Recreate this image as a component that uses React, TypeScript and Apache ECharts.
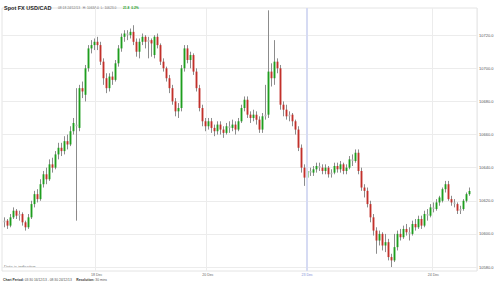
import React, { useEffect, useRef } from "react";
import * as echarts from "echarts";

// [open, close, low, high] per 30-min slot
const ohlc: number[][] = [
  [10607, 10608, 10604, 10610], [10608, 10605, 10603, 10609], [10605, 10610, 10604, 10612], [10610, 10614, 10609, 10616],
  [10614, 10611, 10609, 10615], [10611, 10612, 10608, 10614], [10612, 10607, 10605, 10613], [10607, 10604, 10602, 10608],
  [10604, 10610, 10603, 10612], [10610, 10618, 10609, 10620], [10618, 10624, 10616, 10626], [10624, 10621, 10619, 10627],
  [10621, 10630, 10620, 10633], [10630, 10636, 10628, 10638], [10636, 10633, 10630, 10640], [10633, 10642, 10632, 10645],
  [10642, 10640, 10637, 10646], [10640, 10648, 10639, 10650], [10648, 10652, 10645, 10655], [10652, 10650, 10647, 10655],
  [10650, 10656, 10648, 10659], [10656, 10654, 10651, 10660], [10654, 10662, 10653, 10665], [10662, 10667, 10660, 10670],
  [10666, 10665, 10608, 10688], [10664, 10688, 10662, 10690], [10688, 10686, 10682, 10692], [10684, 10700, 10680, 10702],
  [10700, 10712, 10698, 10714], [10712, 10714, 10709, 10717], [10714, 10716, 10711, 10718], [10716, 10714, 10711, 10719],
  [10714, 10704, 10702, 10716], [10704, 10694, 10690, 10706], [10694, 10688, 10685, 10697], [10688, 10695, 10686, 10697],
  [10695, 10693, 10690, 10698], [10693, 10703, 10692, 10705], [10703, 10712, 10701, 10714], [10712, 10719, 10710, 10721],
  [10719, 10721, 10716, 10723], [10721, 10720, 10717, 10723], [10720, 10722, 10718, 10724], [10722, 10716, 10714, 10726],
  [10716, 10710, 10707, 10718], [10710, 10716, 10706, 10718], [10716, 10719, 10714, 10721], [10719, 10716, 10712, 10720],
  [10716, 10717, 10706, 10719], [10717, 10715, 10707, 10718], [10708, 10719, 10706, 10720], [10719, 10714, 10712, 10721],
  [10714, 10704, 10702, 10715], [10704, 10700, 10698, 10706], [10700, 10694, 10692, 10701], [10694, 10688, 10685, 10696],
  [10688, 10680, 10678, 10690], [10680, 10674, 10671, 10682], [10674, 10676, 10670, 10679], [10676, 10700, 10674, 10702],
  [10700, 10712, 10698, 10714], [10712, 10705, 10703, 10714], [10705, 10708, 10700, 10710], [10708, 10698, 10696, 10709],
  [10698, 10688, 10686, 10700], [10688, 10676, 10674, 10690], [10676, 10668, 10665, 10678], [10668, 10665, 10662, 10670],
  [10665, 10668, 10663, 10670], [10668, 10664, 10661, 10670], [10664, 10662, 10659, 10666], [10662, 10666, 10660, 10668],
  [10666, 10663, 10660, 10668], [10663, 10661, 10658, 10665], [10661, 10665, 10660, 10667], [10665, 10664, 10661, 10668],
  [10664, 10666, 10662, 10669], [10666, 10663, 10660, 10668], [10663, 10668, 10662, 10670], [10668, 10676, 10667, 10678],
  [10676, 10681, 10674, 10683], [10681, 10672, 10670, 10683], [10672, 10670, 10667, 10674], [10670, 10672, 10668, 10675],
  [10672, 10669, 10666, 10674], [10669, 10663, 10661, 10671], [10663, 10671, 10661, 10673], [10671, 10672, 10669, 10690],
  [10672, 10698, 10670, 10735], [10698, 10694, 10689, 10703], [10694, 10704, 10690, 10717], [10704, 10700, 10697, 10706],
  [10700, 10678, 10675, 10702], [10678, 10675, 10671, 10680], [10675, 10671, 10669, 10678], [10671, 10672, 10668, 10674],
  [10672, 10668, 10665, 10673], [10668, 10663, 10660, 10669], [10663, 10652, 10650, 10665], [10652, 10640, 10637, 10654],
  [10640, 10634, 10629, 10642], [10634, 10638, 10632, 10640], [10638, 10637, 10635, 10640], [10637, 10639, 10635, 10641],
  [10639, 10641, 10637, 10643], [10641, 10640, 10638, 10643], [10640, 10638, 10636, 10642], [10638, 10640, 10636, 10642],
  [10640, 10636, 10634, 10641], [10636, 10637, 10634, 10639], [10637, 10641, 10636, 10643], [10641, 10639, 10637, 10643],
  [10639, 10642, 10637, 10644], [10642, 10638, 10636, 10643], [10638, 10640, 10636, 10642], [10640, 10645, 10639, 10647],
  [10645, 10644, 10641, 10648], [10644, 10649, 10643, 10651], [10649, 10638, 10636, 10651], [10638, 10628, 10626, 10640],
  [10628, 10626, 10622, 10630], [10626, 10618, 10616, 10628], [10618, 10610, 10607, 10620], [10610, 10602, 10599, 10612],
  [10602, 10596, 10588, 10604], [10596, 10600, 10593, 10602], [10600, 10593, 10590, 10601], [10593, 10595, 10589, 10600],
  [10595, 10586, 10584, 10597], [10586, 10584, 10580, 10588], [10584, 10592, 10583, 10600], [10592, 10600, 10590, 10602],
  [10600, 10598, 10596, 10603], [10598, 10603, 10597, 10605], [10603, 10601, 10599, 10606], [10601, 10600, 10596, 10604],
  [10600, 10606, 10599, 10608], [10606, 10604, 10602, 10609], [10604, 10609, 10603, 10611], [10609, 10605, 10603, 10611],
  [10605, 10612, 10604, 10614], [10612, 10611, 10608, 10615], [10611, 10616, 10610, 10618], [10616, 10615, 10613, 10619],
  [10615, 10619, 10614, 10621], [10619, 10622, 10617, 10623], [10620, 10627, 10619, 10628], [10627, 10630, 10625, 10632],
  [10630, 10621, 10620, 10632], [10621, 10619, 10617, 10623], [10619, 10618, 10616, 10621], [10618, 10614, 10612, 10619],
  [10614, 10615, 10612, 10617], [10615, 10620, 10614, 10621], [10620, 10624, 10619, 10625], [10624, 10625.9, 10623, 10628],
];

const slotCount = 158;
const yTicks = [10580, 10600, 10620, 10640, 10660, 10680, 10700, 10720];
const tickSlots = [31, 68, 101, 143];
const tickLabels = ["18 Dec", "20 Dec", "23 Dec", "24 Dec"];
const highlightSlot = 101;
const lastPrice = 10625.9;

const FONT = "Liberation Sans, Arial, sans-serif";

export default function App() {
  const ref = useRef<HTMLDivElement>(null);
  useEffect(() => {
    document.body.style.margin = "0";
    const chart = echarts.init(ref.current!, null, { renderer: "svg" });
    const slots = Array.from({ length: slotCount }, (_, i) => String(i));
    const data = ohlc.map((d, i) => [i, d[0], d[1], d[2], d[3]]);
    chart.setOption({
      animation: false,
      backgroundColor: "#ffffff",
      textStyle: { fontFamily: FONT },
      grid: { left: 2, right: 23, top: 8, bottom: 14, show: true, borderColor: "#e4e4e4", borderWidth: 1 },
      xAxis: {
        type: "category",
        data: slots,
        boundaryGap: true,
        axisLine: { show: false },
        axisTick: { show: false },
        axisLabel: {
          interval: (i: number) => tickSlots.includes(i),
          margin: 2,
          fontSize: 3.6,
          color: "#666",
          fontFamily: FONT,
          formatter: (_v: string, i: number) => {
            const k = tickSlots.indexOf(i);
            if (k < 0) return "";
            return i === highlightSlot ? `{b|${tickLabels[k]}}` : tickLabels[k];
          },
          rich: { b: { color: "#7f8fd6", fontSize: 3.6, fontFamily: FONT } },
        },
        splitLine: {
          show: true,
          interval: (i: number) => tickSlots.includes(i) && i !== highlightSlot,
          lineStyle: { color: "#ececec", width: 1 },
        },
      },
      yAxis: {
        type: "value",
        position: "right",
        min: 10577.6,
        max: 10736.4,
        axisLine: { show: false },
        axisTick: { show: false, customValues: yTicks },
        axisLabel: {
          customValues: yTicks,
          margin: 2,
          fontSize: 4,
          color: "#555",
          fontFamily: FONT,
          formatter: (v: number) => v.toFixed(1),
        },
        splitLine: { show: true, lineStyle: { color: "#ececec", width: 1 } },
      },
      graphic: [
        {
          type: "text",
          left: 4,
          top: 2,
          style: {
            text: "{t|Spot FX USD/CAD}  {s|08:18 24/12/13   H: 10634.0  L: 10623.0}  {g|21.8  0.2%}",
            rich: {
              t: { fontSize: 5.5, fontWeight: "bold", fill: "#222", fontFamily: FONT },
              s: { fontSize: 3.3, fill: "#777", fontFamily: FONT },
              g: { fontSize: 3.3, fill: "#22a022", fontWeight: "bold", fontFamily: FONT },
            },
          },
        },
        {
          type: "text",
          left: 4,
          top: 264,
          style: { text: "Data is indicative", fontSize: 4.2, fill: "#777", fontFamily: FONT },
        },
        {
          type: "text",
          left: 3,
          top: 278.5,
          style: {
            text: "{b|Chart Period:} 03:30 16/12/13 - 08:30 24/12/13     {b|Resolution:} 30 mins",
            fontSize: 3.3,
            fill: "#555",
            fontFamily: FONT,
            rich: { b: { fontSize: 3.3, fontWeight: "bold", fill: "#333", fontFamily: FONT } },
          },
        },
      ],
      series: [
        {
          type: "custom",
          data,
          encode: { x: 0, y: [1, 2, 3, 4] },
          clip: true,
          renderItem: (_params: any, api: any) => {
            const i = api.value(0);
            const o = api.value(1);
            const c = api.value(2);
            const l = api.value(3);
            const h = api.value(4);
            const pO = api.coord([i, o]);
            const pC = api.coord([i, c]);
            const pL = api.coord([i, l]);
            const pH = api.coord([i, h]);
            const bw = Math.max(1.2, api.size([1, 0])[0] * 0.62);
            const x = Math.round(pO[0]) + 0.5;
            const top = Math.min(pO[1], pC[1]);
            const hgt = Math.max(1, Math.abs(pO[1] - pC[1]));
            const color = Math.abs(c - o) < 1.5 ? "#b0b0b0" : c > o ? "#1e9e1e" : "#c2302a";
            return {
              type: "group",
              children: [
                { type: "line", shape: { x1: x, y1: pH[1], x2: x, y2: pL[1] }, style: { stroke: "#8c8c8c", lineWidth: 1 } },
                { type: "rect", shape: { x: x - bw / 2, y: top, width: bw, height: hgt }, style: { fill: color } },
              ],
            };
          },
          markLine: {
            silent: true,
            symbol: "none",
            animation: false,
            data: [
              {
                xAxis: String(highlightSlot),
                lineStyle: { color: "#d6dbf3", width: 2, type: "solid" },
                label: { show: false },
              },
              {
                yAxis: lastPrice,
                lineStyle: { opacity: 0 },
                label: {
                  show: true,
                  position: "end",
                  distance: 1,
                  formatter: lastPrice.toFixed(1),
                  fontSize: 4.6,
                  color: "#333",
                  fontFamily: FONT,
                  backgroundColor: "#fff",
                  borderColor: "#888",
                  borderWidth: 0.6,
                  padding: [2, 1.5, 1.5, 1.5],
                },
              },
            ],
          },
        },
      ],
    });
    return () => chart.dispose();
  }, []);
  return <div ref={ref} style={{ width: 500, height: 285 }} />;
}
